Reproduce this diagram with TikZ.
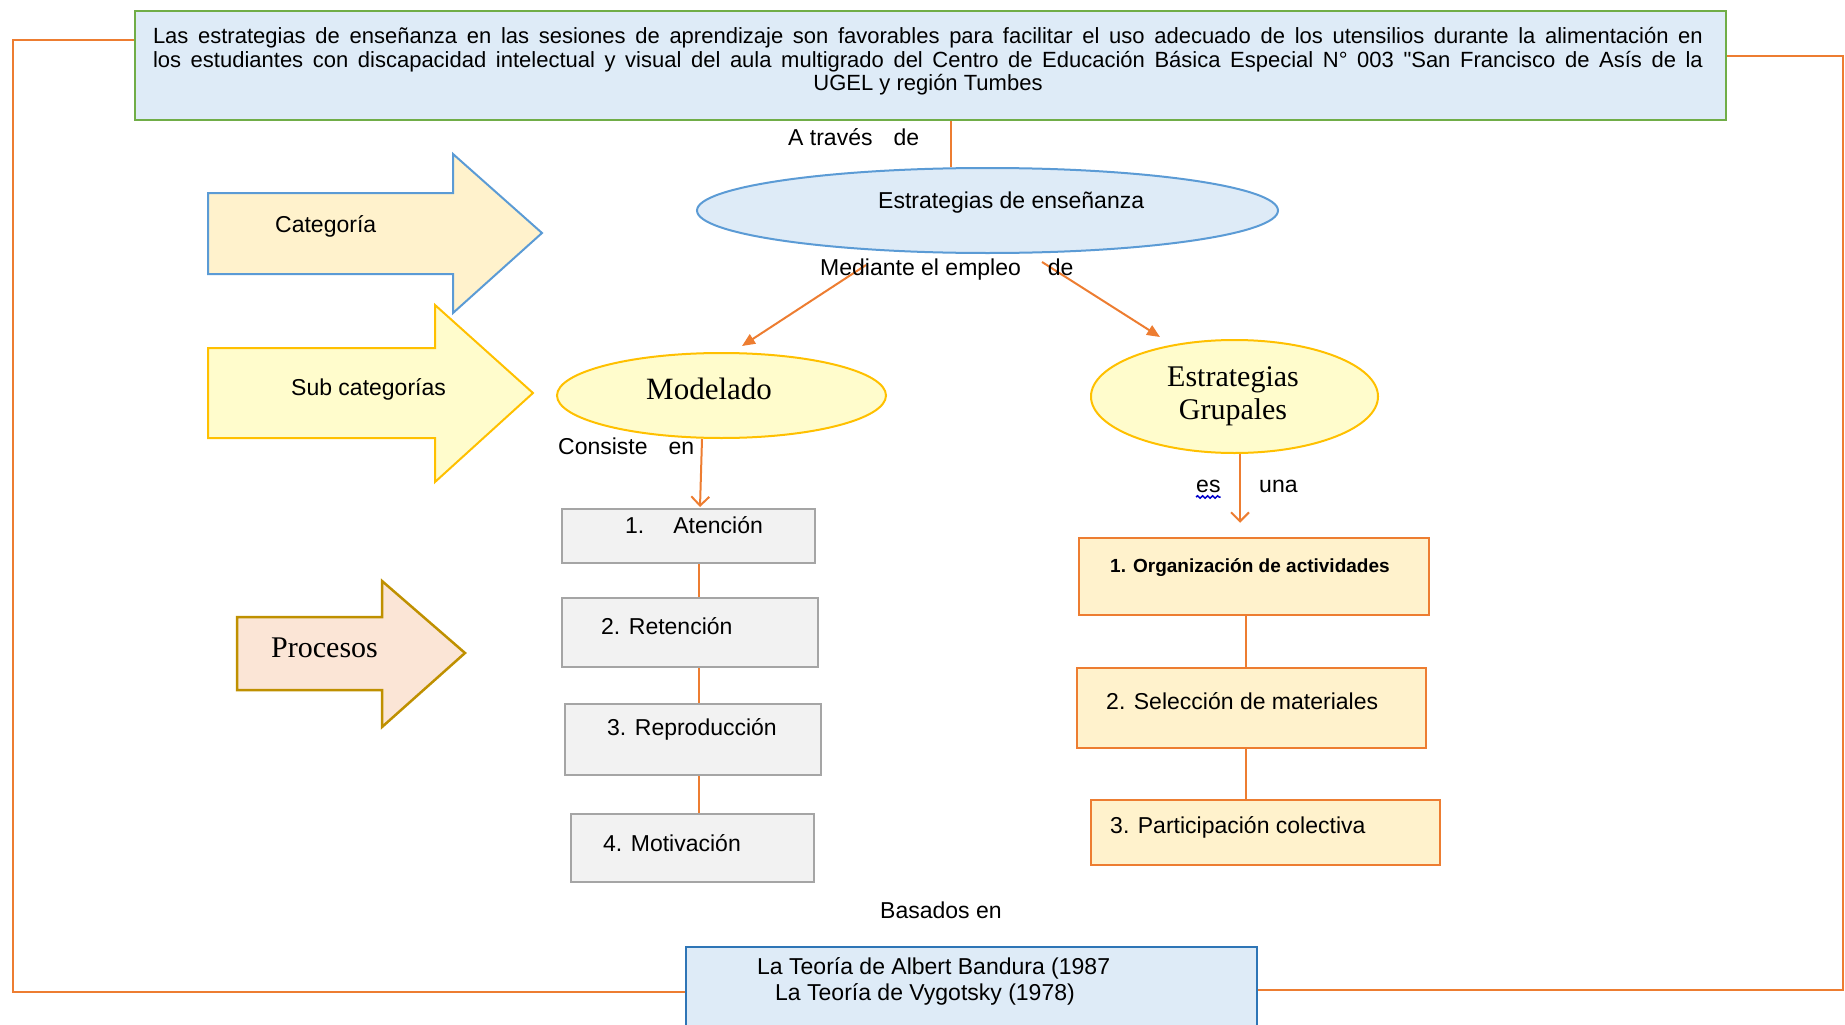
\documentclass[tikz,border=0pt]{standalone}
\usepackage{fontspec}
\setmainfont{Liberation Sans}[Ligatures=TeXOff]
\newfontfamily\serifface{Liberation Serif}
\usetikzlibrary{arrows.meta,calc,shapes.geometric,decorations.pathmorphing}
\definecolor{blueF}{HTML}{DEEBF7}
\definecolor{greenS}{HTML}{70AD47}
\definecolor{orangeC}{HTML}{ED7D31}
\definecolor{blueS}{HTML}{5B9BD5}
\definecolor{darkBlue}{HTML}{2E75B6}
\definecolor{yellowF}{HTML}{FFFCCC}
\definecolor{goldS}{HTML}{FFC000}
\definecolor{creamF}{HTML}{FFF2CC}
\definecolor{peachF}{HTML}{FBE5D6}
\definecolor{darkGold}{HTML}{BF9000}
\definecolor{grayF}{HTML}{F2F2F2}
\definecolor{grayS}{HTML}{A5A5A5}
\begin{document}
\begin{tikzpicture}[x=1pt,y=-1pt,
  conn/.style={draw=orangeC, line width=2pt},
  lbl/.style={anchor=base west, inner sep=0pt, font=\fontsize{23}{27}\selectfont},
  serlbl/.style={inner sep=0pt, font=\serifface\fontsize{31}{33}\selectfont},
  gbox/.style={draw=grayS, fill=grayF, line width=2pt, inner sep=0pt},
  obox/.style={draw=orangeC, fill=creamF, line width=2.5pt, inner sep=0pt},
  yell/.style={ellipse, draw=goldS, fill=yellowF, line width=2pt, inner sep=0pt},
  filltip/.style={-{Triangle[length=13pt,width=11pt]}},
  opentip/.style={-{Straight Barb[length=9pt,width=18pt]}}
]
\useasboundingbox (0,0) rectangle (1845,1025);

% top box
\node[draw=greenS, fill=blueF, line width=2.5pt, minimum width=1591pt, minimum height=109pt, inner sep=0pt] (top) at (930.5,65.5) {};
\node[inner sep=0pt, align=center, font=\fontsize{22}{23.5}\selectfont] (toptext) at (928,61.5)
 {\makebox[1550pt][s]{Las estrategias de enseñanza en las sesiones de aprendizaje son favorables para facilitar el uso adecuado de los utensilios durante la alimentación en}\\
  \makebox[1550pt][s]{los estudiantes con discapacidad intelectual y visual del aula multigrado del Centro de Educación Básica Especial N° 003 "San Francisco de Asís de la}\\
  UGEL y región Tumbes};

% bottom box
\node[draw=darkBlue, fill=blueF, line width=2pt, minimum width=571pt, minimum height=98pt, inner sep=0pt] (bot) at (971.5,996) {};
\node[lbl] (botA) at (757,974) {La Teoría de Albert Bandura (1987};
\node[lbl] (botB) at (775,1000) {La Teoría de Vygotsky (1978)};

% side connectors
\coordinate (LT) at (13,40);
\coordinate (LB) at (13,992);
\draw[conn] (top.west |- LT) -- (LT) -- (LB) -- (bot.west |- LB);
\coordinate (RT) at (1843,56);
\coordinate (RB) at (1843,990);
\draw[conn] (top.east |- RT) -- (RT) -- (RB) -- (bot.east |- RB);

% block arrows
\draw[draw=goldS, fill=yellowF, line width=2pt] (208,348) -- (435,348) -- (435,305) -- (533,393) -- (435,482) -- (435,438) -- (208,438) -- cycle;
\draw[draw=blueS, fill=creamF, line width=2pt] (208,193) -- (453,193) -- (453,154) -- (542,233) -- (453,313) -- (453,274) -- (208,274) -- cycle;
\draw[draw=darkGold, fill=peachF, line width=2.5pt] (237,617) -- (382,617) -- (382,581) -- (465,653) -- (382,727) -- (382,690) -- (237,690) -- cycle;
\node[lbl] (catT) at (275,232) {Categoría};
\node[lbl] (subT) at (291,395) {Sub categorías};
\node[serlbl, anchor=base west, font=\serifface\fontsize{30}{32}\selectfont] (procT) at (271,657) {Procesos};

% main ellipse
\node[ellipse, draw=blueS, fill=blueF, line width=2pt, minimum width=581pt, minimum height=85pt, inner sep=0pt] (estr) at (987.5,210.5) {};
\node[lbl] (estrT) at (878,208) {Estrategias de enseñanza};
\node[lbl] (atrav) at (788,145) {A través\hspace{21pt}de};
\coordinate (vx) at (951,0);
\draw[conn] (top.south -| vx) -- (estr.north -| vx);

% sub ellipses
\node[yell, minimum width=329pt, minimum height=85pt] (model) at (721.5,395.5) {};
\node[serlbl, anchor=base west] (modelT) at (646,399) {Modelado};
\node[yell, minimum width=287pt, minimum height=113pt] (grup) at (1234.5,396.5) {};
\node[serlbl, align=center, font=\serifface\fontsize{30}{33}\selectfont] (grupT) at (1233,396) {Estrategias\\Grupales};

\draw[conn, filltip] ($(estr.center)+(-121.5,54.5)$) -- ($(model.north)+(20.5,-6)$);
\draw[conn, filltip] ($(estr.center)+(54.5,51.5)$) -- ($(grup.center)+(-74.5,-59.5)$);
\node[lbl] (medT) at (820,275) {Mediante el empleo\hspace{27pt}de};

% left process boxes
\node[gbox, minimum width=253pt, minimum height=54pt] (aten) at (688.5,536) {};
\node[gbox, minimum width=256pt, minimum height=69pt] (reten) at (690,632.5) {};
\node[gbox, minimum width=256pt, minimum height=71pt] (repro) at (693,739.5) {};
\node[gbox, minimum width=243pt, minimum height=68pt] (motiv) at (692.5,848) {};
\node[lbl] (atenT) at (625,533) {1.\hspace{29pt}Atención};
\node[lbl] (retenT) at (601,634) {2. Retención};
\node[lbl] (reproT) at (607,735) {3. Reproducción};
\node[lbl] (motivT) at (603,851) {4. Motivación};
\coordinate (lx) at (699,0);
\draw[conn] (aten.south -| lx) -- (reten.north -| lx);
\draw[conn] (reten.south -| lx) -- (repro.north -| lx);
\draw[conn] (repro.south -| lx) -- (motiv.north -| lx);
\draw[conn, opentip] ($(model.south)+(-19.5,0)$) -- ($(aten.north)+(11.5,-1)$);
\node[lbl] (consT) at (558,454) {Consiste\hspace{21pt}en};

% right boxes
\node[obox, minimum width=350pt, minimum height=77pt] (org) at (1254,576.5) {};
\node[obox, minimum width=349pt, minimum height=80pt] (sel) at (1251.5,708) {};
\node[obox, minimum width=349pt, minimum height=65pt] (part) at (1265.5,832.5) {};
\node[lbl, font=\bfseries\fontsize{19}{22}\selectfont] (orgT) at (1110,572) {1. Organización de actividades};
\node[lbl] (selT) at (1106,709) {2. Selección de materiales};
\node[lbl] (partT) at (1110,833) {3. Participación colectiva};
\coordinate (rx) at (1246,0);
\draw[conn] (org.south -| rx) -- (sel.north -| rx);
\draw[conn] (sel.south -| rx) -- (part.north -| rx);
\draw[conn, opentip] ($(grup.south)+(5.5,0)$) -- ($(org.north)+(-14,-14)$);
\node[lbl] (esT) at (1196,492) {es};
\node[lbl] (unaT) at (1259,492) {una};
\draw[blue!80!black, line width=1.5pt, decorate, decoration={snake, amplitude=1.2pt, segment length=5pt}] ($(esT.base west)+(0,5)$) -- ($(esT.base east)+(0,5)$);

\node[lbl] (basT) at (880,918) {Basados en};
\end{tikzpicture}
\end{document}
